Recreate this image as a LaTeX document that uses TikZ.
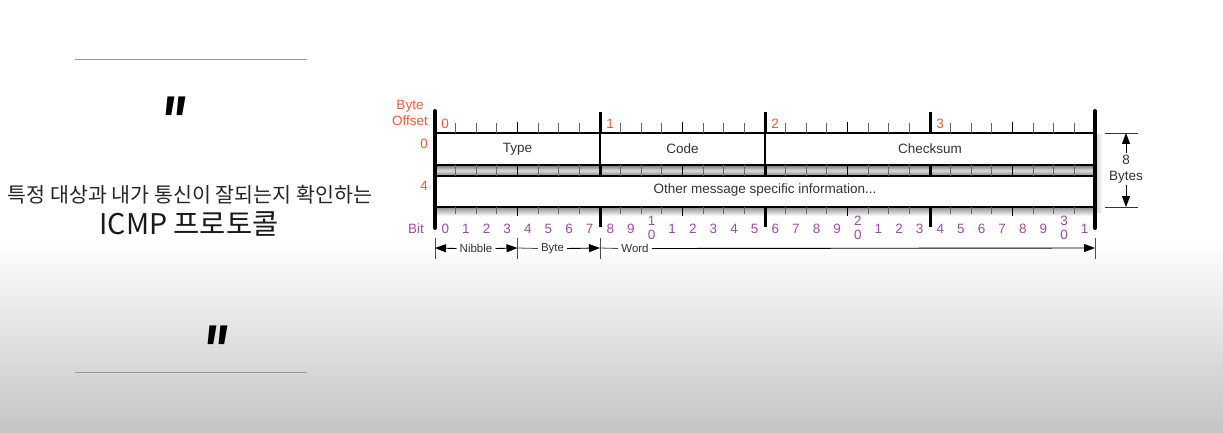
\documentclass[tikz,border=0pt]{standalone}
\usepackage{fontspec}
\setmainfont{Liberation Sans}
\newfontfamily\krfont{Noto Sans CJK KR}
\newfontfamily\qfont[Ligatures=NoCommon]{Liberation Sans}
\usetikzlibrary{arrows.meta}
\definecolor{offs}{HTML}{F05A3A}
\definecolor{bitc}{HTML}{A04CA0}
\definecolor{txt}{HTML}{333333}
\tikzset{
  lbl/.style={font=\fontsize{13.5}{14}\selectfont, text=txt, inner sep=0pt},
  offlbl/.style={font=\fontsize{13.5}{16.5}\selectfont, text=offs, inner sep=0pt},
  bitlbl/.style={font=\fontsize{13.5}{14}\selectfont, text=bitc, inner sep=0pt},
  unitlbl/.style={font=\fontsize{11.5}{12}\selectfont, text=txt, inner sep=0pt},
  bittick/.style={draw=black!60, line width=0.8pt},
  nibtick/.style={draw=black, line width=1.8pt},
  bytetick/.style={draw=black, line width=3pt},
  frameline/.style={draw=black, line width=4pt, line cap=round},
  sep/.style={draw=black!70, line width=0.8pt},
  dim/.style={draw=black, line width=0.9pt, -{Triangle[length=11pt,width=8pt]}},
  quotemark/.style={font=\qfont\fontsize{75}{75}\selectfont\bfseries\itshape, inner sep=0pt},
  rule/.style={draw=black!40, line width=1pt}
}
\begin{document}
\begin{tikzpicture}[x=1pt,y=-1pt]
\useasboundingbox (0,0) rectangle (1223,433);
\fill[white] (0,0) rectangle (1223,433);
\shade[top color=white, bottom color=black!23] (0,240) rectangle (1223,433);

% left panel
\draw[rule] (75,60) -- (307,60);
\draw[rule] (75,372) -- (307,372);
\node[quotemark, anchor=base] (q1) at (172.5,148.5) {\scalebox{0.7}[1]{\char34}};
\node[quotemark, anchor=base] (q2) at (214.5,377.5) {\scalebox{0.7}[1]{\char34}};
\node[font=\krfont\fontsize{20.6}{21}\selectfont, text=black!85, inner sep=0pt] (t1) at (190,195) {특정 대상과 내가 통신이 잘되는지 확인하는};
\node[font=\krfont\fontsize{28.5}{28}\selectfont, text=black!90, inner sep=0pt] (t2) at (189,224) {ICMP 프로토콜};

% shadow at right
\shade[left color=black!14, right color=white] (1097,135) rectangle (1103,212);

% rows
\fill[white] (435,133) rectangle (1095,165);
\shade[top color=black!55, bottom color=black!50, middle color=black!14] (435,165) rectangle (1095,176);
\fill[white] (435,176) rectangle (1095,207);
\shade[top color=black!45, bottom color=white] (435,207) rectangle (1095,216);
\draw[black, line width=1.4pt] (435,133) -- (1095,133);
\draw[black, line width=1.2pt] (435,165) -- (1095,165);
\draw[black, line width=1.2pt] (435,176) -- (1095,176);
\draw[black, line width=1.2pt] (435,207) -- (1095,207);

% ticks
\foreach \i in {1,...,31}{
  \pgfmathsetmacro\xx{435+20.625*\i}
  \pgfmathtruncatemacro\m{mod(\i,8)}
  \pgfmathtruncatemacro\n{mod(\i,4)}
  \ifnum\m=0
    \draw[bytetick] (\xx,112) -- (\xx,133);
    \draw[bytetick] (\xx,165) -- (\xx,176);
    \draw[bytetick] (\xx,207) -- (\xx,227);
  \else\ifnum\n=0
    \draw[nibtick] (\xx,122) -- (\xx,133);
    \draw[nibtick] (\xx,165) -- (\xx,176);
    \draw[nibtick] (\xx,207) -- (\xx,216);
  \else
    \draw[bittick] (\xx,123) -- (\xx,133);
    \draw[bittick] (\xx,165) -- (\xx,176);
    \draw[bittick] (\xx,207) -- (\xx,214);
  \fi\fi
}
% row 1 dividers
\draw[black, line width=1.4pt] (600,133) -- (600,165);
\draw[black, line width=1.4pt] (765,133) -- (765,165);
% outer frame
\draw[frameline] (435,111) -- (435,228);
\draw[frameline] (1095,111) -- (1095,228);

% field labels
\node[lbl] (type) at (517.5,149) {Type};
\node[lbl] (code) at (682.5,149) {Code};
\node[lbl] (cks) at (930,149) {Checksum};
\node[lbl] (other) at (765,190.5) {Other message specific information...};

% offsets
\node[offlbl, align=center] (bo) at (410,113) {Byte\\Offset};
\node[offlbl] (o0) at (445,123.5) {0};
\node[offlbl] (o1) at (610,123.5) {1};
\node[offlbl] (o2) at (775,123.5) {2};
\node[offlbl] (o3) at (940,123.5) {3};
\node[offlbl] (r0) at (424,144) {0};
\node[offlbl] (r4) at (424,186) {4};
\node[bitlbl] (bit) at (416,229) {Bit};

% bit numbers
\foreach \i in {0,...,31}{
  \pgfmathsetmacro\xx{435+20.625*(\i+0.5)}
  \pgfmathtruncatemacro\d{mod(\i,10)}
  \pgfmathtruncatemacro\t{int(\i/10)}
  \ifnum\i>9\relax
    \ifnum\d=0
      \node[bitlbl] (bt\i) at (\xx,220.5) {\t};
      \node[bitlbl] (b\i) at (\xx,235) {0};
    \else
      \node[bitlbl] (b\i) at (\xx,228.5) {\d};
    \fi
  \else
    \node[bitlbl] (b\i) at (\xx,228.5) {\d};
  \fi
}

% unit arrows
\coordinate (u0) at (435,248);
\coordinate (u1) at (517.5,248);
\coordinate (u2) at (600,248);
\coordinate (u3) at (1095,248);
\draw[sep] (435,238) -- (435,259);
\draw[sep] (517.5,238) -- (517.5,259);
\draw[sep] (600,238) -- (600,259);
\draw[sep] (1095,238) -- (1095,259);
\node[unitlbl] (nib) at (476,248.5) {Nibble};
\node[unitlbl] (byt) at (552.5,248.5) {Byte};
\node[unitlbl] (wrd) at (635,248.5) {Word};
\draw[dim] ([xshift=-3pt]nib.west) -- (u0);
\draw[dim] ([xshift=3pt]nib.east) -- (u1);
\draw[sep] (u1) -- ([xshift=-3pt]byt.west);
\draw[dim] ([xshift=3pt]byt.east) -- (u2);
\draw[sep] (u2) -- ([xshift=-3pt]wrd.west);
\draw[dim] ([xshift=3pt]wrd.east) -- (u3);

% 8 bytes
\draw[black!80, line width=0.8pt] (1105,133) -- (1138,133);
\draw[black!80, line width=0.8pt] (1105,207) -- (1138,207);
\coordinate (bt) at (1126,133);
\coordinate (bb) at (1126,207);
\node[lbl, align=center, font=\fontsize{13.5}{16}\selectfont] (eight) at (1126,169) {8\\Bytes};
\draw[dim] ([yshift=2pt]eight.north) -- (bt);
\draw[dim] ([yshift=-2pt]eight.south) -- (bb);
\end{tikzpicture}
\end{document}
